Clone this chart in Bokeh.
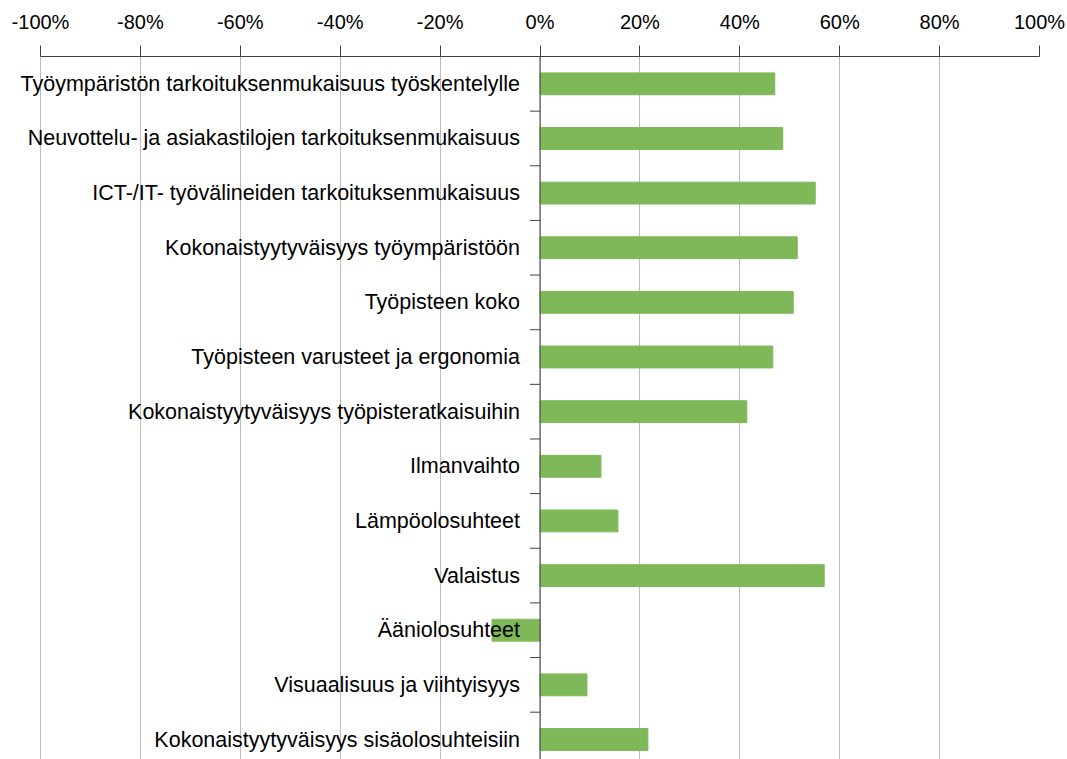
from bokeh.plotting import figure
from bokeh.models import Range1d, FixedTicker, Span, ColumnDataSource
from bokeh.core.properties import value
from bokeh.embed import file_html
from bokeh.resources import INLINE

categories = [
    "Työympäristön tarkoituksenmukaisuus työskentelylle",
    "Neuvottelu- ja asiakastilojen tarkoituksenmukaisuus",
    "ICT-/IT- työvälineiden tarkoituksenmukaisuus",
    "Kokonaistyytyväisyys työympäristöön",
    "Työpisteen koko",
    "Työpisteen varusteet ja ergonomia",
    "Kokonaistyytyväisyys työpisteratkaisuihin",
    "Ilmanvaihto",
    "Lämpöolosuhteet",
    "Valaistus",
    "Ääniolosuhteet",
    "Visuaalisuus ja viihtyisyys",
    "Kokonaistyytyväisyys sisäolosuhteisiin",
]
values = [47.0, 48.6, 55.1, 51.5, 50.7, 46.6, 41.4, 12.2, 15.6, 56.9, -9.6, 9.4, 21.6]
x_ticks = [-100, -80, -60, -40, -20, 0, 20, 40, 60, 80, 100]
tick_labels = ["-100%", "-80%", "-60%", "-40%", "-20%", "0%", "20%", "40%", "60%", "80%", "100%"]

FONT = "Liberation Sans"
n = len(categories)
ys = [i + 0.5 for i in range(n)]
bounds = list(range(n + 1))

src = ColumnDataSource(dict(y=ys, v=values, cat=categories))

# frame spans the full width so that long labels are not clipped;
# 999 px cover the -100..100 % span, 40 px extra on the left
px_per_pct = 999 / 200
x_start = -100 - 40 / px_per_pct

p = figure(
    width=1067, height=759,
    x_range=Range1d(x_start, 100),
    y_range=Range1d(12.866, 0),
    output_backend="svg", toolbar_location=None,
    x_axis_location="above", y_axis_location=None,
    min_border_left=0, min_border_right=28,
    min_border_top=56, min_border_bottom=0,
)
p.outline_line_color = None
p.background_fill_color = "white"
p.border_fill_color = "white"

ax = p.xaxis[0]
ax.ticker = FixedTicker(ticks=x_ticks)
ax.bounds = (-100, 100)
ax.major_label_overrides = {t: l for t, l in zip(x_ticks, tick_labels)}
ax.major_tick_in = 0
ax.major_tick_out = 11
ax.minor_tick_line_color = None
ax.axis_line_color = "#404040"
ax.major_tick_line_color = "#404040"
ax.major_label_text_font = FONT
ax.major_label_text_font_size = "20px"
ax.major_label_text_color = "black"
ax.major_label_standoff = 13

p.xgrid.ticker = FixedTicker(ticks=x_ticks)
p.xgrid.grid_line_color = "#bdbdbd"
p.ygrid.grid_line_color = None

p.hbar(y="y", left=0, right="v", height=0.4, color="#7EB858", source=src)

p.add_layout(Span(location=0, dimension="height", line_color="#404040", line_width=1))
p.segment(x0=[-2] * len(bounds), x1=[0] * len(bounds), y0=bounds, y1=bounds,
          line_color="#404040", line_width=1)

p.text(x=0, y="y", text="cat", source=src, x_offset=-20,
       text_align="right", text_baseline="middle",
       text_font=value(FONT), text_font_size="21.5px", text_color="black")

open("out.html", "w").write(file_html(p, INLINE))
